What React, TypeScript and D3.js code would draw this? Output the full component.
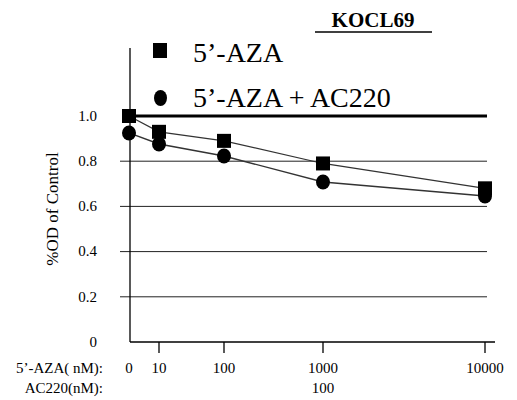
import React from "react";
import * as d3 from "d3";

// data
const doses = ["0", "10", "100", "1000", "10000"];
const azaOnly = [1.0, 0.93, 0.89, 0.79, 0.68];
const azaPlusAc = [0.925, 0.876, 0.823, 0.708, 0.646];
const yTicks = [1.0, 0.8, 0.6, 0.4, 0.2, 0];
const acDoseLabel = "100";
const legendLabels = ["5’-AZA", "5’-AZA + AC220"];
const title = "KOCL69";
const yTitle = "%OD of Control";
const rowLabels = ["5’-AZA( nM):", "AC220(nM):"];

// page is 517x400 with the body's 8px margin; the svg sits at (8,8)
const pageMargin = 8;
const width = 517 - pageMargin;
const height = 400 - pageMargin;
const font = "Liberation Serif";

const App = () => {
  const xScale = d3
    .scaleLinear()
    .domain(doses.map((_, i) => i))
    .range([129, 159, 224, 323, 485]);

  const yScale = d3.scaleLinear().domain([0, 1]).range([342, 116]);

  const line = d3
    .line<number>()
    .x((_, i) => xScale(i))
    .y((d) => yScale(d));

  const sq = 14;

  return (
    <svg width={width} height={height} style={{ display: "block" }}>
      <g transform={`translate(${-pageMargin},${-pageMargin})`} fontFamily={font}>
        <rect width={517} height={400} fill="#fff" />

        {/* title */}
        <text x={373} y={27} textAnchor="middle" fontFamily={font} fontSize={21} fontWeight="bold">
          {title}
        </text>
        <line x1={315} x2={432} y1={32} y2={32} stroke="#000" strokeWidth={1.5} />

        {/* y axis title */}
        <text transform="translate(58,209) rotate(-90)" textAnchor="middle" fontFamily={font} fontSize={17}>
          {yTitle}
        </text>

        {/* grid lines */}
        {yTicks
          .filter((t) => t > 0 && t < 1)
          .map((t) => (
            <line key={t} x1={120} x2={487} y1={yScale(t)} y2={yScale(t)} stroke="#222" strokeWidth={1} />
          ))}
        <line x1={124} x2={487} y1={yScale(1)} y2={yScale(1)} stroke="#000" strokeWidth={3} />

        {/* y tick labels */}
        {yTicks.map((t) => (
          <text key={t} x={97} y={yScale(t)} dy=".32em" textAnchor="end" fontFamily={font} fontSize={15}>
            {t === 0 ? "0" : t.toFixed(1)}
          </text>
        ))}

        {/* axes */}
        <line x1={130} x2={130} y1={48} y2={yScale(0)} stroke="#000" strokeWidth={1.3} />
        <line x1={130} x2={495} y1={yScale(0)} y2={yScale(0)} stroke="#000" strokeWidth={1.5} />
        {doses.slice(1).map((d, i) => (
          <line
            key={d}
            x1={xScale(i + 1)}
            x2={xScale(i + 1)}
            y1={yScale(0)}
            y2={yScale(0) + 11}
            stroke="#000"
            strokeWidth={1.3}
          />
        ))}

        {/* x tick labels */}
        <text x={103} y={373} textAnchor="end" fontFamily={font} fontSize={15}>
          {rowLabels[0]}
        </text>
        {doses.map((d, i) => (
          <text key={d} x={xScale(i)} y={373} textAnchor="middle" fontFamily={font} fontSize={15}>
            {d}
          </text>
        ))}
        <text x={103} y={393} textAnchor="end" fontFamily={font} fontSize={15}>
          {rowLabels[1]}
        </text>
        <text x={xScale(3)} y={393} textAnchor="middle" fontFamily={font} fontSize={15}>
          {acDoseLabel}
        </text>

        {/* series lines */}
        <path d={line(azaOnly) ?? ""} fill="none" stroke="#333" strokeWidth={1.2} />
        <path d={line(azaPlusAc) ?? ""} fill="none" stroke="#333" strokeWidth={1.4} />

        {/* markers */}
        {azaPlusAc.map((v, i) => (
          <ellipse key={"c" + i} cx={xScale(i)} cy={yScale(v)} rx={7} ry={7.5} fill="#000" />
        ))}
        {azaOnly.map((v, i) => (
          <rect key={"s" + i} x={xScale(i) - sq / 2} y={yScale(v) - sq / 2} width={sq} height={sq} fill="#000" />
        ))}

        {/* legend */}
        <rect x={153} y={43} width={14} height={15} fill="#000" />
        <text x={193} y={62} fontFamily={font} fontSize={28}>
          {legendLabels[0]}
        </text>
        <ellipse cx={160.5} cy={98} rx={6.5} ry={8} fill="#000" />
        <text x={193} y={107} fontFamily={font} fontSize={28}>
          {legendLabels[1]}
        </text>
      </g>
    </svg>
  );
};

export default App;
